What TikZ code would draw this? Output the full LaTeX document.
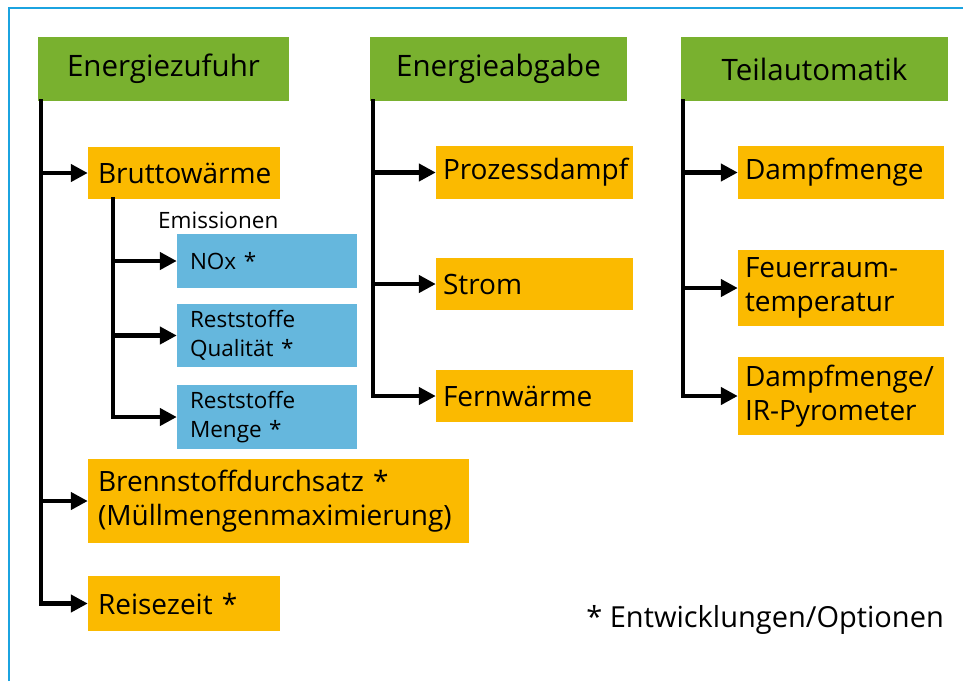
\documentclass[tikz,border=0pt]{standalone}
\usepackage{fontspec}
\setmainfont{Open Sans}
\usetikzlibrary{arrows.meta,calc}
\definecolor{framec}{HTML}{1BA3E0}
\definecolor{greenc}{HTML}{79B12F}
\definecolor{orangec}{HTML}{FBBA00}
\definecolor{bluec}{HTML}{65B7DD}
\tikzset{
  hdr/.style={fill=greenc, draw=none, inner sep=0pt, font=\fontsize{29.5}{33}\selectfont, align=center},
  obox/.style={fill=orangec, draw=none, inner ysep=0pt, font=\fontsize{28}{34}\selectfont, align=left},
  bbox/.style={fill=bluec, draw=none, inner ysep=0pt, inner xsep=13pt, font=\fontsize{22.5}{29}\selectfont, align=left},
  trunk/.style={line width=4.5pt, line cap=rect},
  arr/.style={line width=4.5pt, -{Triangle[length=17pt,width=17pt]}},
}
\newcommand{\bx}[8]{% style, name, x1, y1, x2, y2, xsep, text
  \node[#1, inner xsep=#7, minimum width={#5-#3}, minimum height={#6-#4}, text width={#5-#3-2*#7}] (#2) at ({(#3+#5)/2},{(#4+#6)/2}) {#8};}
\begin{document}
\begin{tikzpicture}[x=1pt,y=-1pt]
\useasboundingbox (0,0) rectangle (963,681);
\fill[white] (0,0) rectangle (963,681);
% frame
\draw[framec, line width=2.2pt] (9,681) -- (9,8) -- (963,8);
% headers
\node[hdr, minimum width=251, minimum height=64] (ez) at (163.5,69) {Energiezufuhr};
\node[hdr, minimum width=257, minimum height=64] (ea) at (498.5,69) {Energieabgabe};
\node[hdr, minimum width=267, minimum height=64] (ta) at (814.5,69) {Teilautomatik};
% column 1
\bx{obox}{bw}{88}{147}{280}{199}{10pt}{Bruttowärme}
\node[anchor=west, inner sep=0pt, font=\fontsize{22.5}{26}\selectfont] (em) at (158,220) {Emissionen};
\bx{bbox}{nox}{177}{234}{357}{288}{13pt}{NOx *}
\bx{bbox}{rq}{177}{304}{357}{367}{13pt}{Reststoffe\\Qualität *}
\bx{bbox}{rm}{177}{385}{357}{449}{13pt}{Reststoffe\\Menge *}
\bx{obox}{bd}{88}{459}{469}{543}{10pt}{Brennstoffdurchsatz *\\(Müllmengenmaximierung)}
\bx{obox}{rz}{88}{576}{280}{631}{10pt}{Reisezeit *}
% column 2
\bx{obox}{pd}{436}{146}{633}{199}{7pt}{Prozessdampf}
\bx{obox}{st}{436}{258}{633}{310}{7pt}{Strom}
\bx{obox}{fw}{436}{370}{633}{422}{7pt}{Fernwärme}
% column 3
\bx{obox}{dm}{738}{146}{944}{199}{7pt}{Dampfmenge}
\bx{obox}{ft}{738}{250}{944}{326}{7pt}{Feuerraum-\\temperatur}
\bx{obox}{ir}{738}{357}{944}{435}{7pt}{Dampfmenge/\\IR-Pyrometer}
% footnote
\node[anchor=east, inner sep=0pt, font=\fontsize{29}{32}\selectfont] (fn) at (944,620) {* Entwicklungen/Optionen};
% connectors column 1
\coordinate (t1) at ($(ez.south west)+(3,0)$);
\draw[trunk] (t1) -- (t1 |- rz.west);
\draw[arr] (t1 |- bw.west) -- (bw.west);
\draw[arr] (t1 |- bd.west) -- (bd.west);
\draw[arr] (t1 |- rz.west) -- (rz.west);
\coordinate (t2) at (113,199);
\draw[trunk] (t2) -- (t2 |- rm.west);
\draw[arr] (t2 |- nox.west) -- (nox.west);
\draw[arr] (t2 |- rq.west) -- (rq.west);
\draw[arr] (t2 |- rm.west) -- (rm.west);
% column 2
\coordinate (t3) at ($(ea.south west)+(3,0)$);
\draw[trunk] (t3) -- (t3 |- fw.west);
\draw[arr] (t3 |- pd.west) -- (pd.west);
\draw[arr] (t3 |- st.west) -- (st.west);
\draw[arr] (t3 |- fw.west) -- (fw.west);
% column 3
\coordinate (t4) at ($(ta.south west)+(2,0)$);
\draw[trunk] (t4) -- (t4 |- ir.west);
\draw[arr] (t4 |- dm.west) -- (dm.west);
\draw[arr] (t4 |- ft.west) -- (ft.west);
\draw[arr] (t4 |- ir.west) -- (ir.west);
\end{tikzpicture}
\end{document}
